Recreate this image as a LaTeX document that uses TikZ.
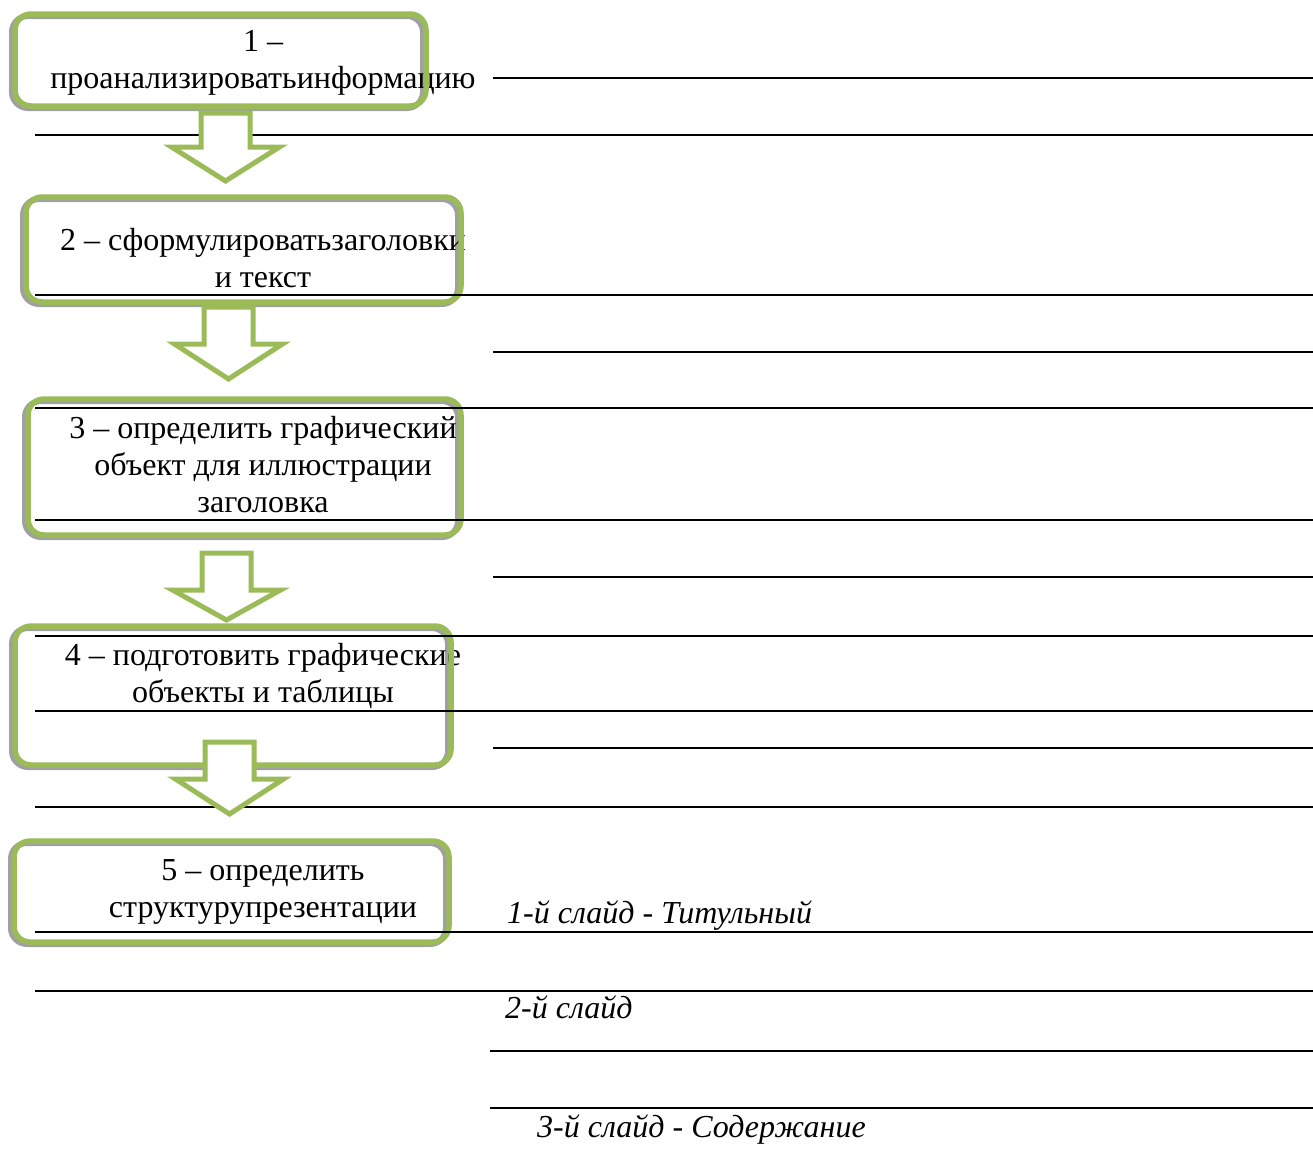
\documentclass[tikz,border=0pt]{standalone}
\usepackage{fontspec}
\setmainfont{Liberation Serif}
\usetikzlibrary{positioning}
\definecolor{stepgreen}{HTML}{9BBB59}
\definecolor{stepgray}{HTML}{A0A0A0}
\tikzset{stepbox/.style={draw=stepgreen,line width=5.5pt,rounded corners=16pt,inner sep=0pt},
         shadowbox/.style={draw=stepgray,line width=6pt,rounded corners=16pt,inner sep=0pt},
         steptext/.style={align=center,anchor=base,inner sep=0pt,font=\fontsize{32}{37}\selectfont},
         slidetext/.style={anchor=base west,inner sep=0pt,font=\fontsize{32}{37}\selectfont\itshape},
         rule/.style={line width=2pt},
         downarrow/.style={draw=stepgreen,fill=white,line width=5pt,line join=miter},
         }
\begin{document}
\begin{tikzpicture}[x=1pt,y=-1pt]
\useasboundingbox (0,0) rectangle (1313,1160);
% shadows
\node[shadowbox,minimum width=411pt,minimum height=92pt] (s1) at (217.5,62) {};
\node[shadowbox,minimum width=435pt,minimum height=105pt] (s2) at (240.5,251.5) {};
\node[shadowbox,minimum width=433pt,minimum height=136pt] (s3) at (241.5,469) {};
\node[shadowbox,minimum width=436pt,minimum height=139pt] (s4) at (230,697.5) {};
\node[shadowbox,minimum width=435pt,minimum height=101pt] (s5) at (228.5,893.5) {};
% step texts (anchored at the last line)
\node[steptext] (t1) at (263,88) {1 --\\проанализироватьинформацию};
\node[steptext] (t2) at (263,287) {2 -- сформулироватьзаголовки\\и текст};
\node[steptext] (t3) at (263,512) {3 -- определить графический\\объект для иллюстрации\\заголовка};
\node[steptext] (t4) at (263,702) {4 -- подготовить графические\\объекты и таблицы};
\node[steptext] (t5) at (263,917) {5 -- определить\\структурупрезентации};
% boxes
\node[stepbox,minimum width=411pt,minimum height=92pt] (box1) at (220.5,60) {};
\node[stepbox,minimum width=435pt,minimum height=105pt] (box2) at (243.5,249.5) {};
\node[stepbox,minimum width=433pt,minimum height=136pt] (box3) at (244.5,467) {};
\node[stepbox,minimum width=436pt,minimum height=139pt] (box4) at (233,695.5) {};
\node[stepbox,minimum width=435pt,minimum height=101pt] (box5) at (231.5,891.5) {};
% lines
\foreach \x/\y in {493/78,35/135,35/295,493/352,35/408,35/520,493/577,35/636,35/711,493/748,35/807,35/932,35/991,490/1051,490/1108}
  \draw[rule] (\x,\y) -- (1313,\y);
% arrows
\foreach \cx/\yt/\yb/\yp in {225.5/113/147/181,228.5/307/344/379,226.5/553/590/620,229.5/742/779/814}
  \draw[downarrow] (\cx-24.5,\yt) -- (\cx+24.5,\yt) -- (\cx+24.5,\yb) -- (\cx+54,\yb)
    -- (\cx,\yp) -- (\cx-54,\yb) -- (\cx-24.5,\yb) -- cycle;
% slides
\node[slidetext] (sl1) at (507,923) {1-й слайд - Титульный};
\node[slidetext] (sl2) at (505,1018) {2-й слайд};
\node[slidetext] (sl3) at (537,1137) {3-й слайд - Содержание};
\end{tikzpicture}
\end{document}
